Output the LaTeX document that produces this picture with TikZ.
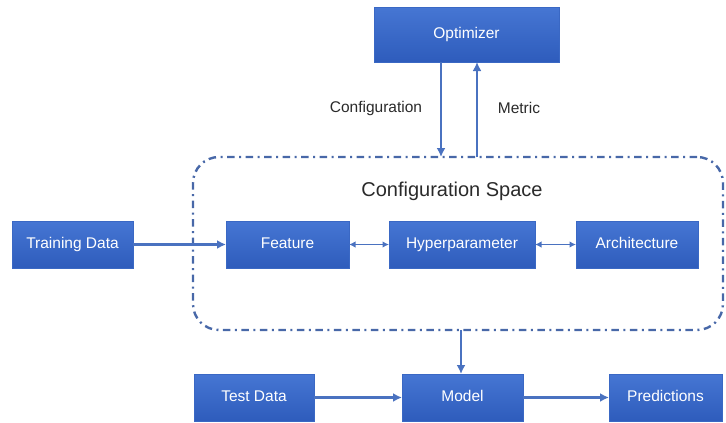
\documentclass[tikz,border=0pt]{standalone}
\usepackage{fontspec}
\setmainfont{Liberation Sans}
\usetikzlibrary{arrows.meta}
\definecolor{boxtop}{HTML}{4676D3}
\definecolor{boxbot}{HTML}{2E5CBC}
\definecolor{boxedge}{HTML}{3A68C4}
\definecolor{linec}{HTML}{4A72C0}
\definecolor{dashc}{HTML}{4868A8}
\definecolor{txt}{HTML}{2A2A2A}
\tikzset{
  box/.style={top color=boxtop, bottom color=boxbot, draw=boxedge, line width=0.6pt,
    text=white, font=\fontsize{15.5}{17}\selectfont, inner sep=0pt, outer sep=0pt,
    text height=11.5pt, text depth=3pt, minimum height=47pt},
  arr/.style={draw=linec, line width=2.4pt, -{Latex[length=9pt,width=9pt]}},
  darr/.style={draw=linec, line width=1.4pt, {Latex[length=6.5pt,width=6.5pt]}-{Latex[length=6.5pt,width=6.5pt]}},
  lbl/.style={text=txt, font=\fontsize{15.5}{17}\selectfont, inner sep=0pt},
  space/.style={draw=dashc, line width=2.4pt, rounded corners=26pt,
    dash pattern=on 7.5pt off 4.5pt on 2pt off 4.5pt, inner sep=0pt, outer sep=0pt}
}
\begin{document}
\begin{tikzpicture}[x=1pt,y=-1pt]
\useasboundingbox (0,0) rectangle (726,423);
\node[space, minimum width=530pt, minimum height=173pt] (sp) at (458,243.5) {};
\node[text=txt, font=\fontsize{20}{22}\selectfont, inner sep=0pt] (spt) at (452,191) {Configuration Space};

\node[box, minimum width=185pt, minimum height=55pt] (opt) at (466.5,34.5) {Optimizer};
\node[box, minimum width=121pt] (train) at (72.5,244.5) {Training Data};
\node[box, minimum width=123pt] (feat) at (287.5,244.5) {Feature};
\node[box, minimum width=146pt] (hyp) at (462,244.5) {Hyperparameter};
\node[box, minimum width=122pt] (arch) at (637,244.5) {Architecture};
\node[box, minimum width=120pt] (test) at (254,397.5) {Test Data};
\node[box, minimum width=121pt] (model) at (462.5,397.5) {Model};
\node[box, minimum width=113pt] (pred) at (665.5,397.5) {Predictions};

\coordinate (cx) at (441,0);
\coordinate (mx) at (477,0);
\coordinate (dx) at (461,0);
\draw[arr] (opt.south -| cx) -- (sp.north -| cx);
\draw[arr] (sp.north -| mx) -- (opt.south -| mx);
\node[lbl] (lconf) at (376,108) {Configuration};
\node[lbl] (lmet) at (519,108) {Metric};

\draw[arr] (train) -- (feat);
\draw[darr] (feat) -- (hyp);
\draw[darr] (hyp) -- (arch);
\draw[arr] (sp.south -| dx) -- (model.north -| dx);
\draw[arr] (test) -- (model);
\draw[arr] (model) -- (pred);
\end{tikzpicture}
\end{document}
